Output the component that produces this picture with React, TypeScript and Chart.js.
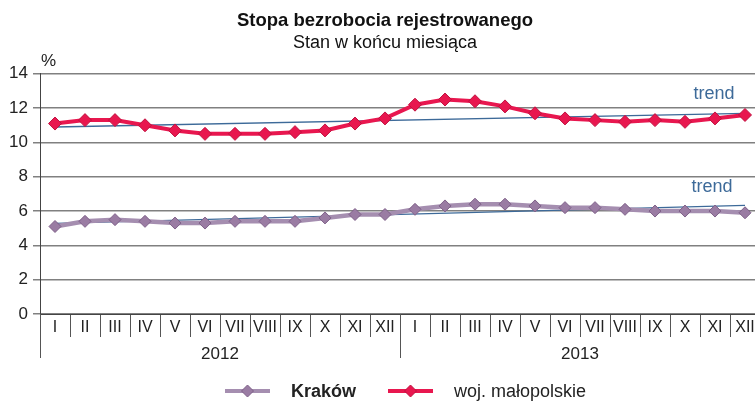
import { useEffect, useRef } from 'react';
import { Chart, registerables } from 'chart.js';

Chart.register(...registerables);

const months = ['I', 'II', 'III', 'IV', 'V', 'VI', 'VII', 'VIII', 'IX', 'X', 'XI', 'XII'];
const years = ['2012', '2013'];
const categories = [...months, ...months];
const yTicks = [0, 2, 4, 6, 8, 10, 12, 14];

const krakow = [5.1, 5.4, 5.5, 5.4, 5.3, 5.3, 5.4, 5.4, 5.4, 5.6, 5.8, 5.8, 6.1, 6.3, 6.4, 6.4, 6.3, 6.2, 6.2, 6.1, 6.0, 6.0, 6.0, 5.9];
const malopolskie = [11.1, 11.3, 11.3, 11.0, 10.7, 10.5, 10.5, 10.5, 10.6, 10.7, 11.1, 11.4, 12.2, 12.5, 12.4, 12.1, 11.7, 11.4, 11.3, 11.2, 11.3, 11.2, 11.4, 11.6];
// trend line endpoints (first and last month)
const trendKrakow = [5.28, 6.33];
const trendMalopolskie = [10.9, 11.69];

const FONT = '"Liberation Sans", Arial, Helvetica, sans-serif';
const RED = '#e8174f';
const PURPLE = '#a58eb0';
const TREND = '#3d6a99';

const endpoints = (t: number[]) =>
  categories.map((_, i) => (i === 0 ? t[0] : i === categories.length - 1 ? t[1] : null));

const decor = {
  id: 'decor',
  afterDraw(chart: any) {
    const { ctx, chartArea, scales } = chart;
    const x = scales.x;
    const y = scales.y;
    const n = categories.length;
    ctx.save();
    ctx.fillStyle = '#222';
    ctx.font = `17px ${FONT}`;
    ctx.textBaseline = 'middle';
    ctx.textAlign = 'left';
    ctx.fillText('%', chartArea.left + 1, chartArea.top - 12);

    // year separators and labels
    const half = (x.getPixelForValue(1) - x.getPixelForValue(0)) / 2;
    const bounds = [x.getPixelForValue(0) - half, x.getPixelForValue(11) + half, x.getPixelForValue(n - 1) + half];
    ctx.strokeStyle = '#555';
    ctx.lineWidth = 1;
    bounds.forEach((b) => {
      const bx = Math.round(b) + 0.5;
      ctx.beginPath();
      ctx.moveTo(bx, chartArea.bottom);
      ctx.lineTo(bx, chartArea.bottom + 44);
      ctx.stroke();
    });
    ctx.textAlign = 'center';
    years.forEach((yr, i) => {
      ctx.fillText(yr, (bounds[i] + bounds[i + 1]) / 2, chartArea.bottom + 40);
    });

    // trend labels
    ctx.fillStyle = TREND;
    ctx.font = `18px ${FONT}`;
    ctx.fillText('trend', x.getPixelForValue(n - 2) - 1, y.getPixelForValue(trendMalopolskie[1]) - 19);
    ctx.fillText('trend', x.getPixelForValue(n - 2) - 3, y.getPixelForValue(trendKrakow[1]) - 18);

    // legend
    const ly = 391;
    const drawItem = (x0: number, color: string, fill: string, stroke: string, text: string, bold: boolean) => {
      ctx.strokeStyle = color;
      ctx.lineWidth = 4;
      ctx.beginPath();
      ctx.moveTo(x0, ly);
      ctx.lineTo(x0 + 45, ly);
      ctx.stroke();
      const cx = x0 + 22.5;
      ctx.fillStyle = fill;
      ctx.strokeStyle = stroke;
      ctx.lineWidth = 1;
      ctx.beginPath();
      ctx.moveTo(cx - 6, ly);
      ctx.lineTo(cx, ly - 6);
      ctx.lineTo(cx + 6, ly);
      ctx.lineTo(cx, ly + 6);
      ctx.closePath();
      ctx.fill();
      ctx.stroke();
      ctx.fillStyle = '#222';
      ctx.font = `${bold ? 'bold ' : ''}18px ${FONT}`;
      ctx.textAlign = 'left';
      ctx.fillText(text, x0 + 66, ly + 1);
    };
    drawItem(225, PURPLE, '#9a7ca3', '#7e6088', 'Kraków', true);
    drawItem(388, RED, RED, '#c0103f', 'woj. małopolskie', false);
    ctx.restore();
  },
};

export default function App() {
  const ref = useRef<HTMLCanvasElement | null>(null);
  useEffect(() => {
    if (!ref.current) return;
    const chart = new Chart(ref.current, {
      type: 'line',
      data: {
        labels: categories,
        datasets: [
          {
            label: 'woj. małopolskie',
            data: malopolskie,
            borderColor: RED,
            backgroundColor: RED,
            borderWidth: 4,
            pointStyle: 'rectRot',
            pointRadius: 6.5,
            pointBackgroundColor: RED,
            pointBorderColor: '#c0103f',
            pointBorderWidth: 1,
            order: 0,
          },
          {
            label: 'Kraków',
            data: krakow,
            borderColor: PURPLE,
            backgroundColor: PURPLE,
            borderWidth: 4.5,
            pointStyle: 'rectRot',
            pointRadius: 6,
            pointBackgroundColor: '#9a7ca3',
            pointBorderColor: '#7e6088',
            pointBorderWidth: 1,
            order: 1,
          },
          {
            label: 'trend woj.',
            data: endpoints(trendMalopolskie),
            borderColor: TREND,
            borderWidth: 1.3,
            pointRadius: 0,
            spanGaps: true,
            order: 2,
          },
          {
            label: 'trend Kraków',
            data: endpoints(trendKrakow),
            borderColor: TREND,
            borderWidth: 1.3,
            pointRadius: 0,
            spanGaps: true,
            order: 2,
          },
        ],
      },
      options: {
        animation: false,
        responsive: false,
        devicePixelRatio: 1,
        layout: { autoPadding: false, padding: { left: 10, right: 0, top: 0, bottom: 0 } },
        plugins: {
          legend: { display: false },
          tooltip: { enabled: false },
          title: {
            display: true,
            text: 'Stopa bezrobocia rejestrowanego',
            color: '#111',
            font: { family: FONT, size: 18.5, weight: 'bold' },
            padding: { top: 10, bottom: 0 },
          },
          subtitle: {
            display: true,
            text: 'Stan w końcu miesiąca',
            color: '#111',
            font: { family: FONT, size: 18 },
            padding: { top: 0, bottom: 20 },
          },
        },
        scales: {
          x: {
            type: 'category',
            offset: true,
            afterFit: (s: any) => {
              s.height = 87;
            },
            grid: {
              offset: true,
              drawOnChartArea: false,
              tickLength: 23,
              color: '#555',
              lineWidth: 1,
            },
            border: { display: true, color: '#444', width: 1 },
            ticks: {
              autoSkip: false,
              maxRotation: 0,
              padding: -19,
              color: '#222',
              font: { family: FONT, size: 16 },
            },
          },
          y: {
            min: 0,
            max: 14,
            afterFit: (s: any) => {
              s.width = 30;
            },
            afterBuildTicks: (s: any) => {
              s.ticks = yTicks.map((v) => ({ value: v }));
            },
            grid: { color: '#808080', lineWidth: 1.5, tickLength: 7 },
            border: { display: true, color: '#444', width: 1 },
            ticks: {
              padding: 5,
              color: '#222',
              font: { family: FONT, size: 17 },
            },
          },
        },
      },
      plugins: [decor],
    });
    return () => chart.destroy();
  }, []);

  return (
    <div style={{ position: 'fixed', left: 0, top: 0, width: 755, height: 401, overflow: 'hidden', background: '#fff' }}>
      <canvas ref={ref} width={760} height={401} style={{ display: 'block', width: 760, height: 401 }} />
    </div>
  );
}
